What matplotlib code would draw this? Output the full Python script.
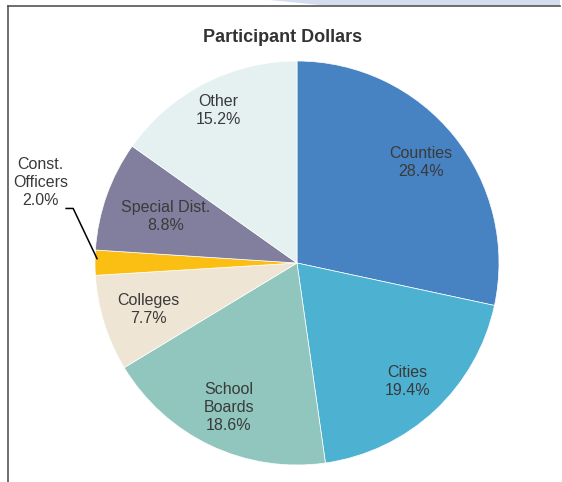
import matplotlib.pyplot as plt
import numpy as np

# Datos del gráfico
categories = ['Counties', 'Cities', 'School\nBoards', 'Colleges',
              'Const.\nOfficers', 'Special Dist.', 'Other']
shares = [28.4, 19.4, 18.6, 7.7, 2.0, 8.8, 15.2]
colors = ['#4783C3', '#4DB1D2', '#90C6BE', '#EEE5D4',
          '#FBBF13', '#827F9E', '#E5F1F1']
# distancia relativa de cada etiqueta al centro
label_dist = [0.79, 0.80, 0.79, 0.77, None, 0.69, 0.85]

plt.rcParams['font.family'] = ['Liberation Sans', 'DejaVu Sans']
text_color = '#3A3A3A'

fig = plt.figure(figsize=(5.62, 4.82), dpi=100)
W, H = 562, 482

# marco de la página
fig.add_artist(plt.Polygon([[270 / W, 1], [560 / W, 1], [560 / W, 1 - 6 / H], [330 / W, 1 - 6 / H]],
                           closed=True, color='#D3DDEE', lw=0, transform=fig.transFigure))
fig.add_artist(plt.Line2D([8 / W, 560 / W], [1 - 6 / H, 1 - 6 / H], color='#555555', lw=1.2))
fig.add_artist(plt.Line2D([8 / W, 8 / W], [0, 1 - 6 / H], color='#555555', lw=1.2))

# eje del pastel: centro (297, 263), radio 202 px
cx, cy, r = 297, 263, 202
ax = fig.add_axes([(cx - r) / W, (H - cy - r) / H, 2 * r / W, 2 * r / H])
wedges, _ = ax.pie(shares, colors=colors, startangle=90, counterclock=False,
                   radius=1.0, wedgeprops=dict(linewidth=0.5, edgecolor='white'))
ax.set_xlim(-1, 1)
ax.set_ylim(-1, 1)
ax.set_aspect('equal')
ax.axis('off')

for w, cat, val, d in zip(wedges, categories, shares, label_dist):
    ang = np.deg2rad((w.theta1 + w.theta2) / 2)
    if d is None:
        # etiqueta externa con línea guía
        ex, ey = np.cos(ang) * 0.99, np.sin(ang) * 0.99 + 0.02
        ax.plot([-1.143, -1.108, ex], [0.27, 0.27, ey], color='black', lw=1.1,
                clip_on=False)
        ax.text(-1.27, 0.40, f'{cat}\n{val:.1f}%', ha='center', va='center',
                fontsize=11.5, color=text_color, linespacing=1.25)
        continue
    ax.text(np.cos(ang) * d, np.sin(ang) * d, f'{cat}\n{val:.1f}%',
            ha='center', va='center', fontsize=11.5, color=text_color,
            linespacing=1.25)

fig.text(283 / W, 1 - 37 / H, 'Participant Dollars', ha='center', va='center',
         fontsize=13, fontweight='bold', color='#333333')

fig.savefig('out.png', dpi=100)
